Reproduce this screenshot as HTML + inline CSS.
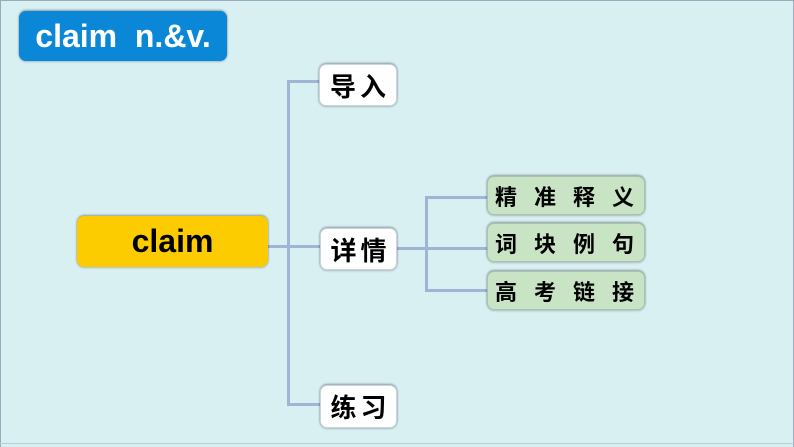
<!DOCTYPE html>
<html><head><meta charset="utf-8"><style>
body{margin:0;width:794px;height:447px;overflow:hidden;background:#d9f0f3;position:relative;font-family:"Liberation Sans","Noto Sans CJK SC",sans-serif;font-weight:bold}
.b{position:absolute;box-sizing:border-box;border-radius:7px;display:flex;align-items:center;justify-content:center;white-space:nowrap;box-shadow:0 -1px 2px rgba(0,0,0,.35),0 1px 2px rgba(0,0,0,.2)}
.l{position:absolute;background:#9fb5d6}
.w{background:#fff;border:1px solid #c8d4e0;font-size:26px;color:#000;letter-spacing:4px;padding-left:4px}
.g{background:#c8e4c4;border:1px solid #a8c4b0;font-size:22px;color:#000;letter-spacing:17px;justify-content:flex-start;padding-left:7px}
</style></head><body>
<div style="position:absolute;left:0;top:0;width:794px;height:1px;background:#9ab"></div>
<div style="position:absolute;left:0;top:0;width:1px;height:447px;background:#9ab"></div>
<div style="position:absolute;right:0;top:0;width:1px;height:447px;background:#aac"></div>
<div style="position:absolute;left:0;top:443px;width:794px;height:1px;background:#bcd"></div>
<div class="b" style="left:19px;top:11px;width:208px;height:50px;background:#0b87d8;color:#fff;font-size:32px;white-space:pre">claim  n.&amp;v.</div>
<div class="l" style="left:287px;top:80px;width:3px;height:325px"></div>
<div class="l" style="left:287px;top:80px;width:33px;height:3px"></div>
<div class="l" style="left:268px;top:245px;width:52px;height:3px"></div>
<div class="l" style="left:287px;top:403px;width:33px;height:3px"></div>
<div class="l" style="left:397px;top:247px;width:90px;height:3px"></div>
<div class="l" style="left:425px;top:196px;width:3px;height:95px"></div>
<div class="l" style="left:425px;top:196px;width:62px;height:3px"></div>
<div class="l" style="left:425px;top:289px;width:62px;height:3px"></div>
<div class="b" style="left:77px;top:216px;width:191px;height:51px;background:#fccc00;color:#000;font-size:32px">claim</div>
<div class="b w" style="left:319px;top:64px;width:78px;height:42px">导入</div>
<div class="b w" style="left:320px;top:228px;width:77px;height:42px">详情</div>
<div class="b w" style="left:320px;top:385px;width:77px;height:43px">练习</div>
<div class="b g" style="left:487px;top:176px;width:158px;height:39px">精准释义</div>
<div class="b g" style="left:487px;top:223px;width:158px;height:39px">词块例句</div>
<div class="b g" style="left:487px;top:271px;width:158px;height:39px">高考链接</div>
</body></html>
